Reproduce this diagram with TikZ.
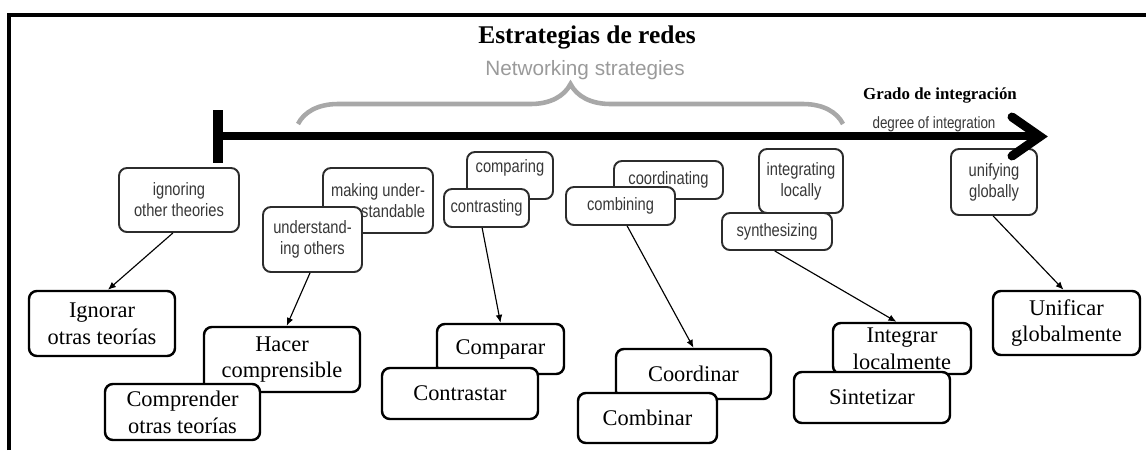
\documentclass[tikz,border=0pt]{standalone}
\usepackage{fontspec}
\newfontfamily\enfont{Liberation Sans}
\newfontfamily\ennarrow[FakeStretch=0.82]{Liberation Sans}
\newfontfamily\esfont{Liberation Serif}
\usetikzlibrary{arrows.meta,calc,decorations.pathreplacing}

\definecolor{engtext}{HTML}{383838}
\definecolor{engline}{HTML}{2C2C2C}
\definecolor{bracegray}{HTML}{A8A8A8}
\definecolor{netgray}{HTML}{9A9A9A}

\tikzset{
  sz/.style 2 args={minimum width=#1*0.02cm, minimum height=#2*0.02cm},
  en/.style={draw=engline, line width=1.1pt, rounded corners=4.5pt, fill=white,
    text=engtext, font=\ennarrow\fontsize{10.2}{11.9}\selectfont, align=center, inner sep=1pt},
  es/.style={draw=black, line width=1.4pt, rounded corners=4.5pt, fill=white,
    font=\esfont\fontsize{12.75}{15.3}\selectfont, align=center, inner sep=1pt},
  link/.style={-{Latex[length=4.5pt,width=3.8pt]}, line width=0.65pt},
}

\begin{document}
\begin{tikzpicture}[x=0.02cm, y=-0.02cm]
\useasboundingbox (0,0) rectangle (1146,450);

% frame (top and left edges)
\draw[line width=2.3pt] (9,450) -- (9,15) -- (1146,15);

% headings
\node[font=\esfont\bfseries\fontsize{14.5}{17}\selectfont] (title) at (587,37) {Estrategias de redes};
\node[font=\enfont\fontsize{11.8}{14}\selectfont, text=netgray] (sub) at (585,70) {Networking strategies};
\node[font=\esfont\bfseries\fontsize{9.6}{11}\selectfont] (grado) at (940,95) {Grado de integración};
\node[font=\ennarrow\fontsize{9.3}{10}\selectfont, text=engtext] (degree) at (934,124) {degree of integration};

% brace over the strategies
\draw[bracegray, line width=2.6pt, decorate, decoration={brace, amplitude=0.8cm}]
  (298,124) -- (843,124);

% English strategy boxes
\node[en, sz={120}{64}] (ign) at (179,200) {ignoring\\other theories};
\node[en, sz={110}{65}, align=right] (mak) at (378,200.5) {making under-\\standable};
\node[en, sz={99}{65}] (und) at (312.5,239.5) {understand-\\ing others};
\node[en, sz={86}{47}, text height=7pt, text depth=10pt] (cmpE) at (510,175.5) {comparing};
\node[en, sz={85}{38}] (ctrE) at (486.5,208) {contrasting};
\node[en, sz={109}{38}] (cooE) at (668.5,180) {coordinating};
\node[en, sz={109}{38}] (cmbE) at (620.5,206) {combining};
\node[en, sz={84}{64}] (intE) at (801,181) {integrating\\locally};
\node[en, sz={110}{37}] (synE) at (777,231.5) {synthesizing};
\node[en, sz={86}{66}] (uniE) at (994,182) {unifying\\globally};

% degree-of-integration axis
\fill (213,110) rectangle (223,163);
\draw[line width=4.8pt] (222,136) -- (1036,136);
\draw[line width=5.1pt, line cap=round, line join=miter] (1012,117) -- (1040,136.5) -- (1012,156);

% Spanish strategy boxes
\node[es, sz={146}{65}] (ignS) at (102,323.5) {Ignorar\\otras teorías};
\node[es, sz={156}{65}] (hacS) at (282,359.5) {Hacer\\comprensible};
\node[es, sz={155}{56}] (comS) at (182.5,412) {Comprender\\otras teorías};
\node[es, sz={127}{50}] (cmpS) at (500.5,349) {Comparar};
\node[es, sz={156}{51}] (ctrS) at (460,393.5) {Contrastar};
\node[es, sz={155}{50}] (cooS) at (693.5,374) {Coordinar};
\node[es, sz={139}{50}] (cmbS) at (647.5,418) {Combinar};
\node[es, sz={138}{51}] (intS) at (902,348.5) {Integrar\\localmente};
\node[es, sz={156}{51}] (synS) at (872,397.5) {Sintetizar};
\node[es, sz={147}{64}] (uniS) at (1066.5,323) {Unificar\\globalmente};

% links from each strategy to its Spanish name
\draw[link] ($(ign.south west)!0.45!(ign.south east)$) -- ($(ignS.north west)!0.54!(ignS.north east)$);
\draw[link] ($(und.south west)!0.475!(und.south east)$) -- ($(hacS.north west)!0.53!(hacS.north east)$);
\draw[link] ($(ctrE.south west)!0.45!(ctrE.south east)$) -- ($(cmpS.north west)!0.5!(cmpS.north east)$);
\draw[link] ($(cmbE.south west)!0.56!(cmbE.south east)$) -- ($(cooS.north west)!0.5!(cooS.north east)$);
\draw[link] ($(synE.south west)!0.48!(synE.south east)$) -- ($(intS.north west)!0.46!(intS.north east)$);
\draw[link] ($(uniE.south west)!0.49!(uniE.south east)$) -- ($(uniS.north west)!0.48!(uniS.north east)$);
\end{tikzpicture}
\end{document}
